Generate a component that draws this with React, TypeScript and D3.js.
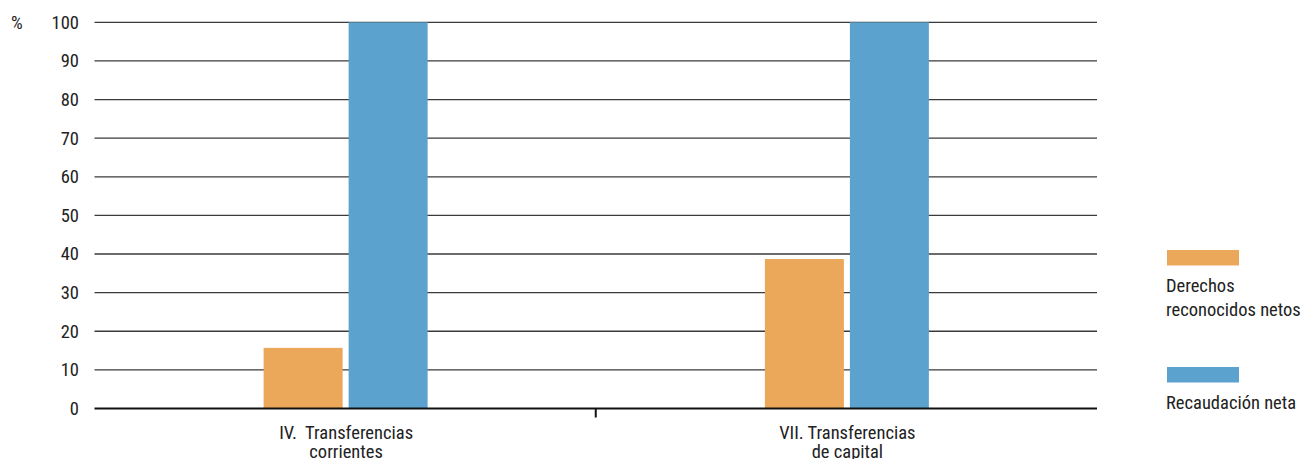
import { useEffect, useRef } from 'react';
import * as d3 from 'd3';

const categories = ['IV.  Transferencias|corrientes', 'VII. Transferencias|de capital'];
const seriesNames = ['Derechos|reconocidos netos', 'Recaudación neta'];
const derechos = [15.7, 38.7];
const recaudacion = [100, 100];
const yTicks = [0, 10, 20, 30, 40, 50, 60, 70, 80, 90, 100];
const colors = ['#eba75a', '#5ba3ce'];

const FONT = '"Liberation Sans Narrow", "Roboto Condensed", Roboto, sans-serif';
const FS = 18.5;

export default function App() {
  const ref = useRef<SVGSVGElement | null>(null);
  const width = 1309;
  const height = 459;

  useEffect(() => {
    const svg = d3.select(ref.current);
    svg.selectAll('*').remove();

    const left = 94.5;
    const right = 1097;
    const top = 22.3;
    const bottom = 408.5;

    const x = d3.scaleBand<string>().domain(categories).range([left, right]);
    const y = d3.scaleLinear().domain([0, 100]).range([bottom, top]);

    const barW = 79;
    const gap = 6;
    const groupW = barW * 2 + gap;
    const values = [derechos, recaudacion];

    // grid lines
    svg.append('g')
      .selectAll('line')
      .data(yTicks.filter(t => t !== 0))
      .join('line')
      .attr('x1', left)
      .attr('x2', right)
      .attr('y1', d => y(d))
      .attr('y2', d => y(d))
      .attr('stroke', '#3a3a3a')
      .attr('stroke-width', 1.3);

    // tick labels
    svg.append('g')
      .selectAll('text')
      .data(yTicks)
      .join('text')
      .attr('x', 79)
      .attr('y', d => y(d))
      .attr('dy', '0.35em')
      .attr('text-anchor', 'end')
      .attr('font-family', FONT)
      .attr('font-size', FS)
      .attr('fill', '#222')
      .text(d => d);

    svg.append('text')
      .attr('x', 11)
      .attr('y', y(100))
      .attr('dy', '0.35em')
      .attr('font-family', FONT)
      .attr('font-size', FS)
      .attr('fill', '#222')
      .text('%');

    // bars
    values.forEach((vals, si) => {
      svg.append('g')
        .selectAll('rect')
        .data(categories)
        .join('rect')
        .attr('x', c => x(c)! + x.bandwidth() / 2 - groupW / 2 + si * (barW + gap) + 0.5)
        .attr('y', (c, i) => y(vals[i]))
        .attr('width', barW)
        .attr('height', (c, i) => bottom - y(vals[i]))
        .attr('fill', colors[si]);
    });

    // baseline and category tick
    svg.append('line')
      .attr('x1', left)
      .attr('x2', right)
      .attr('y1', bottom)
      .attr('y2', bottom)
      .attr('stroke', '#111')
      .attr('stroke-width', 2);

    svg.append('line')
      .attr('x1', x(categories[1])!)
      .attr('x2', x(categories[1])!)
      .attr('y1', bottom)
      .attr('y2', bottom + 9)
      .attr('stroke', '#111')
      .attr('stroke-width', 2);

    // category labels
    categories.forEach(c => {
      const lines = c.split('|');
      const t = svg.append('text')
        .attr('text-anchor', 'middle')
        .attr('font-family', FONT)
        .attr('font-size', FS)
        .attr('fill', '#222');
      lines.forEach((l, i) => {
        t.append('tspan')
          .attr('x', x(c)! + x.bandwidth() / 2 + 1)
          .attr('y', 439 + i * 19)
          .style('white-space', 'pre')
          .text(l);
      });
    });

    // legend
    const legendY = [250, 367];
    seriesNames.forEach((name, i) => {
      svg.append('rect')
        .attr('x', 1167)
        .attr('y', legendY[i])
        .attr('width', 72)
        .attr('height', 15.5)
        .attr('fill', colors[i]);
      const t = svg.append('text')
        .attr('font-family', FONT)
        .attr('font-size', FS)
        .attr('fill', '#222');
      name.split('|').forEach((l, j) => {
        t.append('tspan')
          .attr('x', 1166)
          .attr('y', legendY[i] + 42 + j * 24)
          .text(l);
      });
    });
  }, []);

  return (
    <svg
      ref={ref}
      width={width}
      height={height}
      style={{ position: 'absolute', left: 0, top: 0, background: '#fff' }}
    ></svg>
  );
}
